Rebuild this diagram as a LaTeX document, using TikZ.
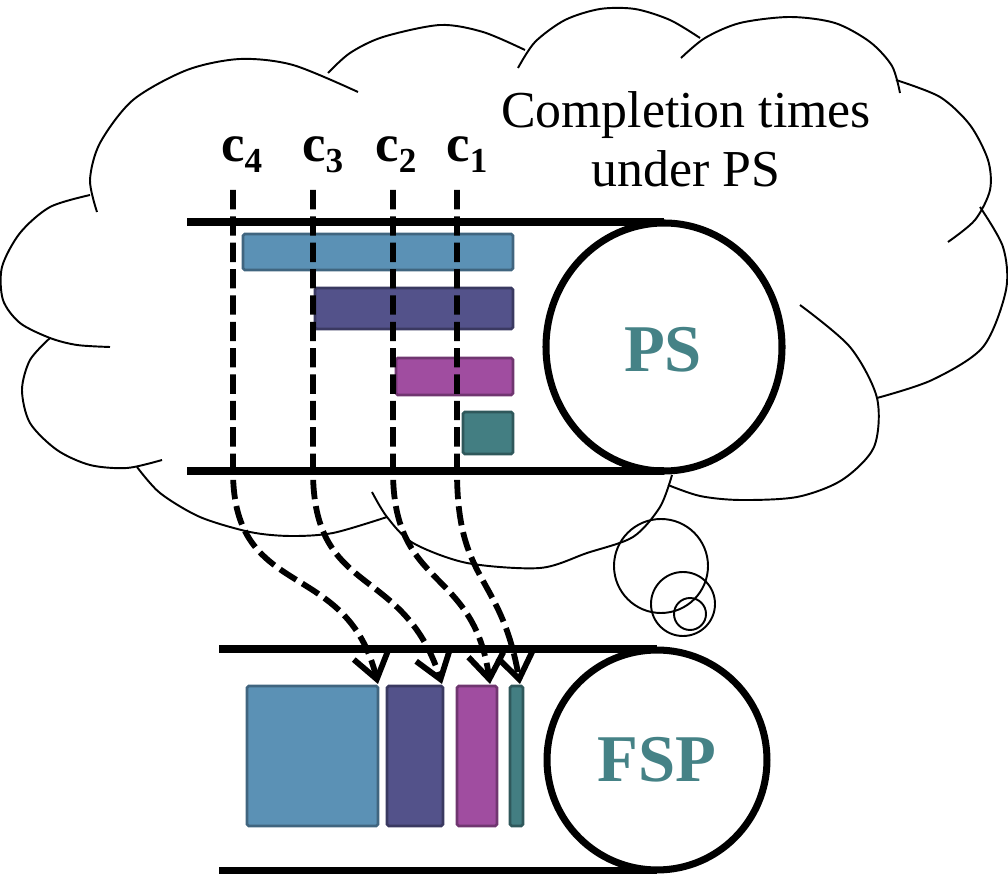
\documentclass[tikz,border=0pt]{standalone}
\usepackage{fontspec}
\setmainfont{Liberation Serif}
\usetikzlibrary{arrows.meta}

\definecolor{jobblue}{RGB}{91,145,181}
\definecolor{jobnavy}{RGB}{83,82,138}
\definecolor{jobpink}{RGB}{160,77,160}
\definecolor{jobteal}{RGB}{67,126,130}
\definecolor{polteal}{RGB}{69,130,134}

\newcommand{\ctime}[1]{c\raisebox{-6pt}{\fontsize{20}{20}\selectfont #1}}

\tikzset{
  rail/.style={line width=4pt},
  server/.style={draw, circle, line width=4pt, text=polteal, font=\bfseries\fontsize{38}{38}\selectfont},
  jobbox/.style={fill=#1, draw=#1!70!black, line width=1.5pt, rounded corners=1pt},
  cloudline/.style={line width=1.1pt},
  clabel/.style={anchor=base west, inner sep=0pt, font=\bfseries\fontsize{30}{30}\selectfont},
  cmark/.style={line width=3.3pt, dash pattern=on 11pt off 4pt,
    -{Straight Barb[length=14pt,width=20pt]}},
}

\begin{document}
\begin{tikzpicture}[x=0.02cm,y=0.02cm]
	    \useasboundingbox (0,0) rectangle (1008,-874);

	    % cloud
	    \draw[cloudline] plot[smooth] coordinates {(97,-212) (90,-180) (100,-143) (133,-100) (187,-70) (240,-59) (293,-65) (358,-92)};
	    \draw[cloudline] plot[smooth] coordinates {(328,-73) (350,-53) (383,-37) (440,-25) (483,-32) (525,-50)};
	    \draw[cloudline] plot[smooth] coordinates {(518,-68) (535,-42) (565,-20) (600,-9) (635,-9) (670,-20) (700,-38)};
	    \draw[cloudline] plot[smooth] coordinates {(681,-58) (705,-38) (740,-23) (790,-17) (835,-23) (870,-42) (892,-66) (900,-93)};
	    \draw[cloudline] plot[smooth] coordinates {(896,-80) (940,-97) (970,-125) (988,-160) (990,-190) (975,-220) (948,-242)};
	    \draw[cloudline] plot[smooth] coordinates {(980,-207) (1003,-247) (1006,-290) (983,-347) (932,-380) (877,-398)};
	    \draw[cloudline] plot[smooth] coordinates {(800,-305) (850,-347) (877,-398) (874,-447) (842,-480) (797,-497) (740,-500) (700,-496) (668,-485)};
	    \draw[cloudline] plot[smooth] coordinates {(372,-492) (387,-517) (413,-543) (467,-563) (540,-568) (587,-553) (633,-537) (660,-507) (672,-475)};
	    \draw[cloudline] plot[smooth] coordinates {(137,-467) (160,-493) (200,-517) (250,-532) (290,-536) (333,-533) (387,-517)};
	    \draw[cloudline] plot[smooth] coordinates {(50,-338) (30,-360) (22,-390) (30,-423) (57,-450) (90,-465) (127,-468) (162,-460)};
	    \draw[cloudline] plot[smooth] coordinates {(90,-195) (50,-207) (20,-233) (2,-267) (3,-300) (20,-323) (50,-338) (77,-345) (110,-347)};

	    % thought bubbles
	    \draw[cloudline] (661,-566) circle[radius=47];
	    \draw[cloudline] (683,-604) circle[radius=32];
	    \draw[cloudline] (690,-614) circle[radius=16];

	    \node[anchor=base, font=\fontsize{29.5}{29.5}\selectfont] (cmpl) at (686,-128) {Completion times};
	    \node[anchor=base, font=\fontsize{29.5}{29.5}\selectfont] (undr) at (686,-187) {under PS};

	    % PS queue
	    \coordinate(psTL)at(187,-222);
	    \coordinate(psTR)at(664,-222);
	    \coordinate(psBL)at(187,-471);
	    \coordinate(psBR)at(664,-471);
	    \draw[rail](psTL)--(psTR);
	    \draw[rail](psBL)--(psBR);
	    \draw[line width=4pt](664,-347) ellipse[x radius=118, y radius=124];
	    \node[text=polteal, font=\bfseries\fontsize{38}{38}\selectfont] (ps) at (663,-350) {PS};

	    \draw[jobbox=jobblue](243,-234)rectangle(513,-270);
	    \draw[jobbox=jobnavy](315,-288)rectangle(513,-329);
	    \draw[jobbox=jobpink](396,-358)rectangle(513,-395);
	    \draw[jobbox=jobteal](463,-412)rectangle(513,-454);

	    % FSP queue
	    \coordinate(fspTL)at(219,-649);
	    \coordinate(fspTR)at(657,-649);
	    \coordinate(fspBL)at(219,-871);
	    \coordinate(fspBR)at(657,-871);
	    \draw[rail](fspTL)--(fspTR);
	    \draw[rail](fspBL)--(fspBR);
	    \node[server, minimum size=4.4cm, inner sep=0pt] (fsp) at (657,-760) {FSP};

	    \draw[jobbox=jobblue](247,-686)rectangle(378,-826);
	    \draw[jobbox=jobnavy](387,-686)rectangle(443,-826);
	    \draw[jobbox=jobpink](457,-686)rectangle(497,-826);
	    \draw[jobbox=jobteal](510,-686)rectangle(523,-826);

	    % completion marks
	    \node[clabel] (lc4) at (221,-162) {\ctime{4}};
	    \node[clabel] (lc3) at (302,-162) {\ctime{3}};
	    \node[clabel] (lc2) at (375,-162) {\ctime{2}};
	    \node[clabel] (lc1) at (446,-162) {\ctime{1}};

	    \coordinate(c4top)at(233,-190);
	    \coordinate(c3top)at(313,-190);
	    \coordinate(c2top)at(393,-190);
	    \coordinate(c1top)at(457,-190);
	    \coordinate(c4bend)at(233,-471);
	    \coordinate(c3bend)at(313,-471);
	    \coordinate(c2bend)at(393,-471);
	    \coordinate(c1bend)at(457,-471);
	    \coordinate(c4tip)at(378,-684);
	    \coordinate(c3tip)at(442,-684);
	    \coordinate(c2tip)at(490,-684);
	    \coordinate(c1tip)at(520,-684);

	    \draw[cmark](c4top)--(c4bend)to[out=-90,in=104,looseness=1.3](c4tip);
	    \draw[cmark](c3top)--(c3bend)to[out=-90,in=108,looseness=1.3](c3tip);
	    \draw[cmark](c2top)--(c2bend)to[out=-90,in=98,looseness=1.3](c2tip);
	    \draw[cmark](c1top)--(c1bend)to[out=-90,in=100,looseness=1.3](c1tip);
\end{tikzpicture}
\end{document}
